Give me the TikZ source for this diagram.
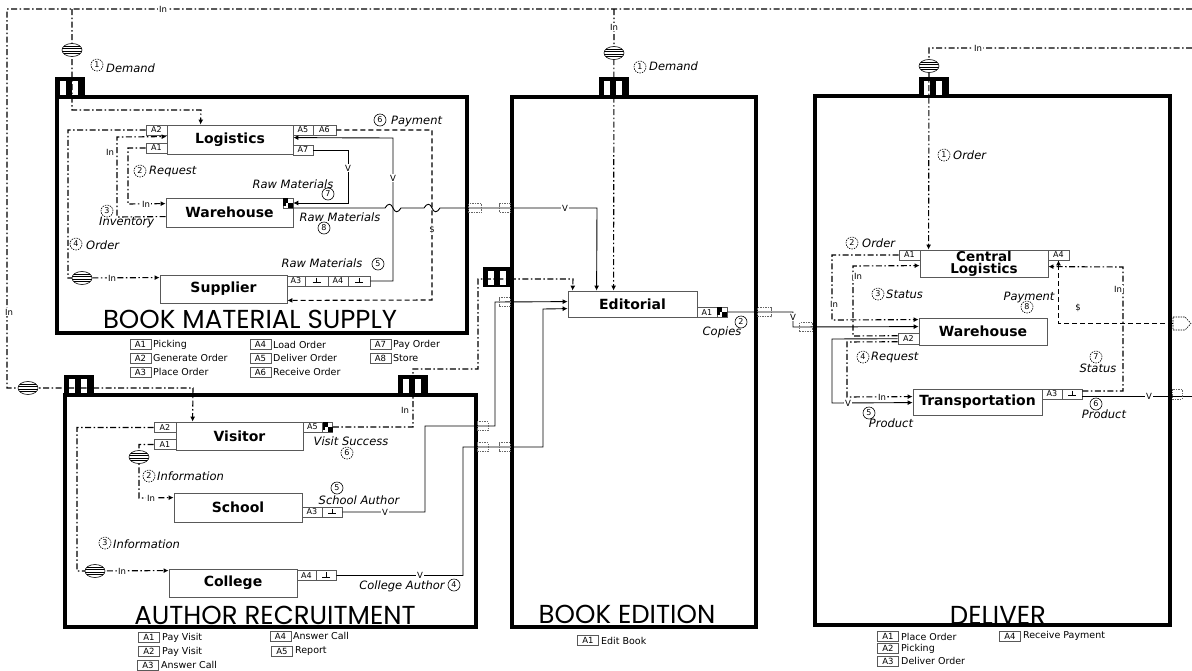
\documentclass[tikz,border=0pt]{standalone}
\usepackage{fontspec}
\setmainfont{DejaVu Sans}
\newfontfamily\ttlfont{Poppins}
\usetikzlibrary{arrows.meta}
\begin{document}
\begin{tikzpicture}[x=1pt,y=-1pt,
 big/.style={draw,line width=4.8pt,inner sep=0pt},
 proc/.style={draw=black!65,line width=0.8pt,fill=white,inner sep=0pt,align=center,font=\fontsize{14}{13}\selectfont\bfseries},
 port/.style={draw=black!65,line width=0.6pt,fill=white,inner sep=0pt,minimum height=10pt,font=\fontsize{8}{8}\selectfont},
 info/.style={line width=1.1pt,dash pattern=on 6pt off 2.5pt on 1.5pt off 2.5pt},
 mat/.style={line width=0.9pt},
 pay/.style={line width=1.1pt,dash pattern=on 5pt off 3pt},
 arr/.style={-{Latex[length=5pt,width=5pt]}},
 lbl/.style={font=\fontsize{11.5}{12}\selectfont\itshape,inner sep=0pt},
 num/.style={circle,draw,line width=0.6pt,inner sep=0pt,minimum size=12pt,font=\fontsize{8}{8}\selectfont},
 dnum/.style={num,dash pattern=on 1.5pt off 1pt},
 onl/.style={fill=white,inner sep=1pt,font=\fontsize{8.5}{9}\selectfont},
 leg/.style={font=\fontsize{9.5}{10}\selectfont,anchor=west,inner sep=0pt},
 lport/.style={port,minimum width=21pt,font=\fontsize{8.5}{9}\selectfont},
 ttl/.style={font=\ttlfont\fontsize{26}{28}\selectfont,inner sep=0pt},
 xbox/.style={draw=black!60,dash pattern=on 1.5pt off 1pt,line width=0.5pt,minimum width=11pt,minimum height=9pt,inner sep=0pt},
 tabpic/.pic={\fill[black] (-15,-10) rectangle (15,10); \fill[white] (-10,-6) rectangle (-4,8); \fill[white] (2,-6) rectangle (8,8);},
 hatchpic/.pic={\draw[fill=white,line width=0.6pt] (0,0) ellipse (10 and 6.5); \begin{scope}\clip (0,0) ellipse (10 and 6.5); \foreach \yy in {-4,-1.5,1,3.5}{\draw[line width=0.5pt] (-10,\yy) -- (10,\yy);} \end{scope}},
 chkpic/.pic={\fill (-5,-5) rectangle (0,0); \fill (0,0) rectangle (5,5); \fill (-5,0) rectangle (-2.5,2.5);},
 perppic/.pic={\draw[line width=0.7pt] (0,-3.5) -- (0,1.5) (-4,1.5) -- (4,1.5);}
]
\fill[white] (0,0) rectangle (1192,670);
\useasboundingbox (0,0) rectangle (1192,670);

% ---------- big boxes ----------
\node[big,minimum width=410pt,minimum height=236pt] (bms) at (262,215) {};
\node[big,minimum width=411pt,minimum height=232pt] (ar) at (270.5,511) {};
\node[big,minimum width=244pt,minimum height=530pt] (be) at (634,362) {};
\node[big,minimum width=355pt,minimum height=529pt] (del) at (992.5,360.5) {};

\node[ttl] (t1) at (250,319) {BOOK MATERIAL SUPPLY};
\node[ttl] (t2) at (275,615) {AUTHOR RECRUITMENT};
\node[ttl] (t3) at (627,614) {BOOK EDITION};
\node[ttl] (t4) at (998,615) {DELIVER};

% ---------- tabs ----------
\pic at (70,87) {tabpic};
\pic at (79,385) {tabpic};
\pic at (413,385) {tabpic};
\pic at (614,87) {tabpic};
\pic at (498,277) {tabpic};
\pic at (934,87) {tabpic};

% ---------- processes ----------
\node[proc,minimum width=126pt,minimum height=29pt] (log) at (230,139.5) {Logistics};
\node[proc,minimum width=127pt,minimum height=29pt] (wh1) at (229.5,212.5) {Warehouse};
\node[proc,minimum width=127pt,minimum height=28pt] (sup) at (223.5,289) {Supplier};
\node[proc,minimum width=127pt,minimum height=28pt] (vis) at (239.5,436) {Visitor};
\node[proc,minimum width=128pt,minimum height=29pt] (sch) at (238,507.5) {School};
\node[proc,minimum width=128pt,minimum height=28pt] (col) at (233,583) {College};
\node[proc,minimum width=129pt,minimum height=26pt] (edi) at (632.5,304) {Editorial};
\node[proc,minimum width=128pt,minimum height=27pt,font=\fontsize{13.5}{12}\selectfont\bfseries] (cl) at (984,263.5) {Central\\Logistics};
\node[proc,minimum width=128pt,minimum height=27pt] (wh2) at (983,331.5) {Warehouse};
\node[proc,minimum width=129pt,minimum height=26pt] (tr) at (977.5,402) {Transportation};

% ---------- ports ----------
\node[port,minimum width=21pt] (sA2) at (156.5,130) {A2};
\node[port,minimum width=21pt] (sA1) at (156.5,148) {A1};
\node[port,minimum width=20pt] (sA5) at (303,130) {A5};
\node[port,minimum width=23pt] (sA6) at (324.5,130) {A6};
\node[port,minimum width=20pt] (sA7) at (303,150) {A7};
\node[port,minimum width=10pt] (wp) at (288,203) {}; \pic at (wp) {chkpic};
\node[port,minimum width=18pt] (sA3) at (296,281) {A3};
\node[port,minimum width=23pt] (sP1) at (316.5,281) {}; \pic at (sP1) {perppic};
\node[port,minimum width=20pt] (sA4) at (338,281) {A4};
\node[port,minimum width=22pt] (sP2) at (359,281) {}; \pic at (sP2) {perppic};

\node[port,minimum width=22pt] (vA2) at (165,427.5) {A2};
\node[port,minimum width=22pt] (vA1) at (165,444.5) {A1};
\node[port,minimum width=19pt] (vA5) at (312.5,427) {A5};
\node[port,minimum width=10pt] (vp) at (327.5,427) {}; \pic at (vp) {chkpic};
\node[port,minimum width=20pt] (cA3) at (312,512) {A3};
\node[port,minimum width=20pt] (cP) at (332,512) {}; \pic at (cP) {perppic};
\node[port,minimum width=19pt] (gA4) at (306.5,575.5) {A4};
\node[port,minimum width=20pt] (gP) at (326,575.5) {}; \pic at (gP) {perppic};

\node[port,minimum width=20pt] (eA1) at (707,312.5) {A1};
\node[port,minimum width=10pt] (ep) at (722,312) {}; \pic at (ep) {chkpic};

\node[port,minimum width=21pt] (dA1) at (909.5,255) {A1};
\node[port,minimum width=21pt] (dA4) at (1058.5,255) {A4};
\node[port,minimum width=21pt,minimum height=11pt] (dA2) at (908.5,338.5) {A2};
\node[port,minimum width=20pt] (dA3) at (1052,394) {A3};
\node[port,minimum width=20pt] (dP) at (1072,394) {}; \pic at (dP) {perppic};

% ---------- connectors ----------
\coordinate (tl) at (7,9);
\coordinate (tend) at (1192,9);
\draw[info,arr] (tend) -- (tl) -- (7,388) -- (193,388) -- ([xshift=17pt]vis.north west);
\coordinate (d1) at (72,9);
\draw[info,arr] (d1) -- (72,110) -- (201,110) -- ([xshift=34pt]log.north west);
\coordinate (d2) at (614,9);
\draw[info,arr] (d2) -- ([xshift=46pt]edi.north west);
\coordinate (d3) at (1192,48);
\draw[info,arr] (d3) -- (929,48) -- ([xshift=9pt]cl.north west);

% book material supply
\draw[info,arr] (sA2.west) -- (68,130) -- (68,278) -- ([yshift=-3pt]sup.north west);
\draw[info,arr] (sA1.west) -- (128,148) -- (128,204) -- ([yshift=-6pt]wh1.north west);
\draw[info,arr] ([yshift=-19pt]wh1.north west) -- (117,217) -- (117,137) -- ([yshift=-12pt]log.north west);
\draw[mat,arr] (sA7.east) -- (348,150) -- (348,203) -- (wp.east);
\draw[mat,arr] (sP2.east) -- (393,281) -- (393,138) -- ([yshift=-13pt]log.north east);
\draw[pay,arr] (sA6.east) -- (432,130) -- (432,300) -- ([yshift=3pt]sup.south east);
\draw[mat,arr] ([yshift=-5pt]wp.east) -- (385,208) .. controls (388,203) and (391,203) .. (393,208) .. controls (395,213) and (398,213) .. (401,208) -- (424,208) .. controls (427,203) and (430,203) .. (432,208) .. controls (434,213) and (437,213) .. (440,208) -- (597,208) -- ([xshift=29pt]edi.north west);

% author recruitment
\draw[info,arr] (vA1.west) -- (139,444.5) -- (139,498) -- ([yshift=-5pt]sch.north west);
\draw[info,arr] (vA2.west) -- (77,427.5) -- (77,571) -- ([yshift=-2pt]col.north west);
\draw[info,arr] (vp.east) -- (413,427) -- (413,369) -- (478,369) -- (478,279) -- (573,279) -- ([xshift=5pt]edi.north west);
\draw[mat,arr] (cP.east) -- (425,512) -- (425,426) -- (495,426) -- (495,302) -- ([yshift=-11pt]edi.north west);
\draw[mat,arr] (gP.east) -- (463,575.5) -- (463,447) -- (543,447) -- (543,309) -- ([yshift=-18pt]edi.north west);

% edition -> deliver
\draw[mat,arr] (ep.east) -- (793,312) -- (793,327) -- ([yshift=-9pt]wh2.north west);

% deliver
\draw[info,arr] (dA1.west) -- (832,255) -- (832,320) -- ([yshift=-2pt]wh2.north west);
\draw[info,arr] ([yshift=-3pt]dA2.north west) -- (853,336) -- (853,266) -- ([yshift=-16pt]cl.north west);
\draw[info,arr] ([yshift=-9pt]dA2.north west) -- (847,342) -- (847,397) -- ([yshift=-8pt]tr.north west);
\draw[mat,arr] ([yshift=-6pt]dA2.north west) -- (832,339) -- (832,403) -- ([yshift=-14pt]tr.north west);
\coordinate (pout) at (1192,396);
\draw[mat] ([yshift=-2pt]dP.east) -- (pout);
\draw[info,arr] ([yshift=3pt]dP.east) -- (1123,391) -- (1123,267) -- ([yshift=-17pt]cl.north east);
\coordinate (payin) at (1173,323.5);
\draw[dash pattern=on 1.5pt off 1pt,line width=0.6pt] (1173,317) -- (1185,317) -- (1191,323.5) -- (1185,330) -- (1173,330) -- cycle;
\draw[pay,arr] (payin) -- (1058.5,323.5) -- (dA4.south);

% ---------- hatched circles ----------
\pic at (72,50) {hatchpic};
\pic at (614,53) {hatchpic};
\pic at (929,66) {hatchpic};
\pic at (28,388) {hatchpic};
\pic at (82,278) {hatchpic};
\pic at (139,457) {hatchpic};
\pic at (95,571) {hatchpic};

% ---------- boundary crossings ----------
\node[xbox,minimum width=13pt] (x1) at (475,208) {};
\node[xbox] (x2) at (505,208) {};
\node[xbox] (x3) at (482.5,426) {};
\node[xbox] (x4) at (504.5,302) {};
\node[xbox] (x5) at (482.5,447) {};
\node[xbox] (x6) at (504.5,447) {};
\node[xbox,minimum width=14pt] (x7) at (764,312) {};
\node[xbox,minimum width=13pt] (x8) at (806,327) {};
\node[xbox,minimum width=10pt,minimum height=10pt] (x9) at (1177,394) {};

% ---------- on-line labels ----------
\node[onl] (in1) at (163,9) {In};
\node[onl] (in2) at (9,312) {In};
\node[onl] (in3) at (112,278) {In};
\node[onl] (in4) at (110,152) {In};
\node[onl] (in5) at (146,204) {In};
\node[onl] (in6) at (151,498) {In};
\node[onl] (in7) at (122,571) {In};
\node[onl] (in8) at (405,410) {In};
\node[onl] (in9) at (614,27) {In};
\node[onl] (in10) at (978,48) {In};
\node[onl] (in11) at (834,304) {In};
\node[onl] (in12) at (858,276) {In};
\node[onl] (in13) at (882,397) {In};
\node[onl] (in14) at (1118,289) {In};
\node[onl] (v1) at (348,168) {V};
\node[onl] (v2) at (393,178) {V};
\node[onl] (v3) at (565,208) {V};
\node[onl] (v4) at (385,512) {V};
\node[onl] (v5) at (420,575.5) {V};
\node[onl] (v6) at (793,317) {V};
\node[onl] (v7) at (848,403) {V};
\node[onl] (v8) at (1149,396) {V};
\node[onl] (dl1) at (432,230) {\$};
\node[onl] (dl2) at (1078,308) {\$};

% ---------- flow labels ----------
\node[dnum] (n1) at (97,65) {1}; \node[lbl,anchor=west] (l1) at (106,68) {Demand};
\node[dnum] (n2) at (140,171) {2}; \node[lbl,anchor=west] (l2) at (149,171) {Request};
\node[dnum] (n3) at (107,211) {3}; \node[lbl,anchor=west] (l3) at (99,222) {Inventory};
\node[dnum] (n4) at (76,244) {4}; \node[lbl,anchor=west] (l4) at (86,245) {Order};
\node[num] (n6) at (380,120) {6}; \node[lbl,anchor=west] (l6) at (391,122) {Payment};
\node[lbl] (l7) at (293,184) {Raw Materials}; \node[num] (n7) at (328,194) {7};
\node[lbl] (l8) at (340,217) {Raw Materials}; \node[num] (n8) at (324,228) {8};
\node[lbl] (l5) at (322,263) {Raw Materials}; \node[num] (n5) at (378,264) {5};

\node[dnum] (m2) at (149,476) {2}; \node[lbl,anchor=west] (k2) at (157,476) {Information};
\node[dnum] (m3) at (105,543) {3}; \node[lbl,anchor=west] (k3) at (113,544) {Information};
\node[lbl] (k6) at (351,441) {Visit Success}; \node[dnum] (m6) at (347,453) {6};
\node[num] (m5) at (337,488) {5}; \node[lbl] (k5) at (359,500) {School Author};
\node[lbl] (k4) at (402,586) {College Author}; \node[num] (m4) at (454,585) {4};

\node[dnum] (e1) at (640,67) {1}; \node[lbl,anchor=west] (f1) at (649,66) {Demand};
\node[num] (e2) at (741,322) {2}; \node[lbl] (f2) at (722,332) {Copies};

\node[dnum] (p1) at (944,155) {1}; \node[lbl,anchor=west] (q1) at (953,155) {Order};
\node[dnum] (p2) at (852,243) {2}; \node[lbl,anchor=west] (q2) at (862,243) {Order};
\node[dnum] (p3) at (878,294) {3}; \node[lbl,anchor=west] (q3) at (886,294) {Status};
\node[lbl] (q8) at (1029,297) {Payment}; \node[dnum] (p8) at (1027,307) {8};
\node[dnum] (p4) at (863,357) {4}; \node[lbl,anchor=west] (q4) at (871,357) {Request};
\node[dnum] (p7) at (1096,357) {7}; \node[lbl] (q7) at (1098,368) {Status};
\node[num] (p5) at (869,413) {5}; \node[lbl] (q5) at (891,423) {Product};
\node[num] (p6) at (1096,404) {6}; \node[lbl] (q6) at (1104,414) {Product};

% ---------- legends ----------
\node[lport] (gs1) at (140.5,344.5) {A1}; \node[leg] (hs1) at (153,344.5) {Picking};
\node[lport] (gs2) at (140.5,358) {A2}; \node[leg] (hs2) at (153,358) {Generate Order};
\node[lport] (gs3) at (140.5,372) {A3}; \node[leg] (hs3) at (153,372) {Place Order};
\node[lport] (gs4) at (260.5,344.5) {A4}; \node[leg] (hs4) at (273,344.5) {Load Order};
\node[lport] (gs5) at (260.5,358) {A5}; \node[leg] (hs5) at (273,358) {Deliver Order};
\node[lport] (gs6) at (260.5,372) {A6}; \node[leg] (hs6) at (273,372) {Receive Order};
\node[lport] (gs7) at (380.5,344.5) {A7}; \node[leg] (hs7) at (393,344.5) {Pay Order};
\node[lport] (gs8) at (380.5,358) {A8}; \node[leg] (hs8) at (393,358) {Store};

\node[lport] (ga1) at (149,637.5) {A1}; \node[leg] (ha1) at (162,637.5) {Pay Visit};
\node[lport] (ga2) at (149,651.5) {A2}; \node[leg] (ha2) at (162,651.5) {Pay Visit};
\node[lport] (ga3) at (148,665) {A3}; \node[leg] (ha3) at (161,665) {Answer Call};
\node[lport] (ga4) at (280.5,636) {A4}; \node[leg] (ha4) at (293,636) {Answer Call};
\node[lport] (ga5) at (282,651) {A5}; \node[leg] (ha5) at (295,651) {Report};

\node[lport] (ge1) at (588,640.5) {A1}; \node[leg] (he1) at (601,640.5) {Edit Book};

\node[lport] (gd1) at (888,636.5) {A1}; \node[leg] (hd1) at (901,636.5) {Place Order};
\node[lport] (gd2) at (888,648.5) {A2}; \node[leg] (hd2) at (901,648.5) {Picking};
\node[lport] (gd3) at (888,661) {A3}; \node[leg] (hd3) at (901,661) {Deliver Order};
\node[lport] (gd4) at (1010,636) {A4}; \node[leg] (hd4) at (1023,636) {Receive Payment};
\end{tikzpicture}
\end{document}
